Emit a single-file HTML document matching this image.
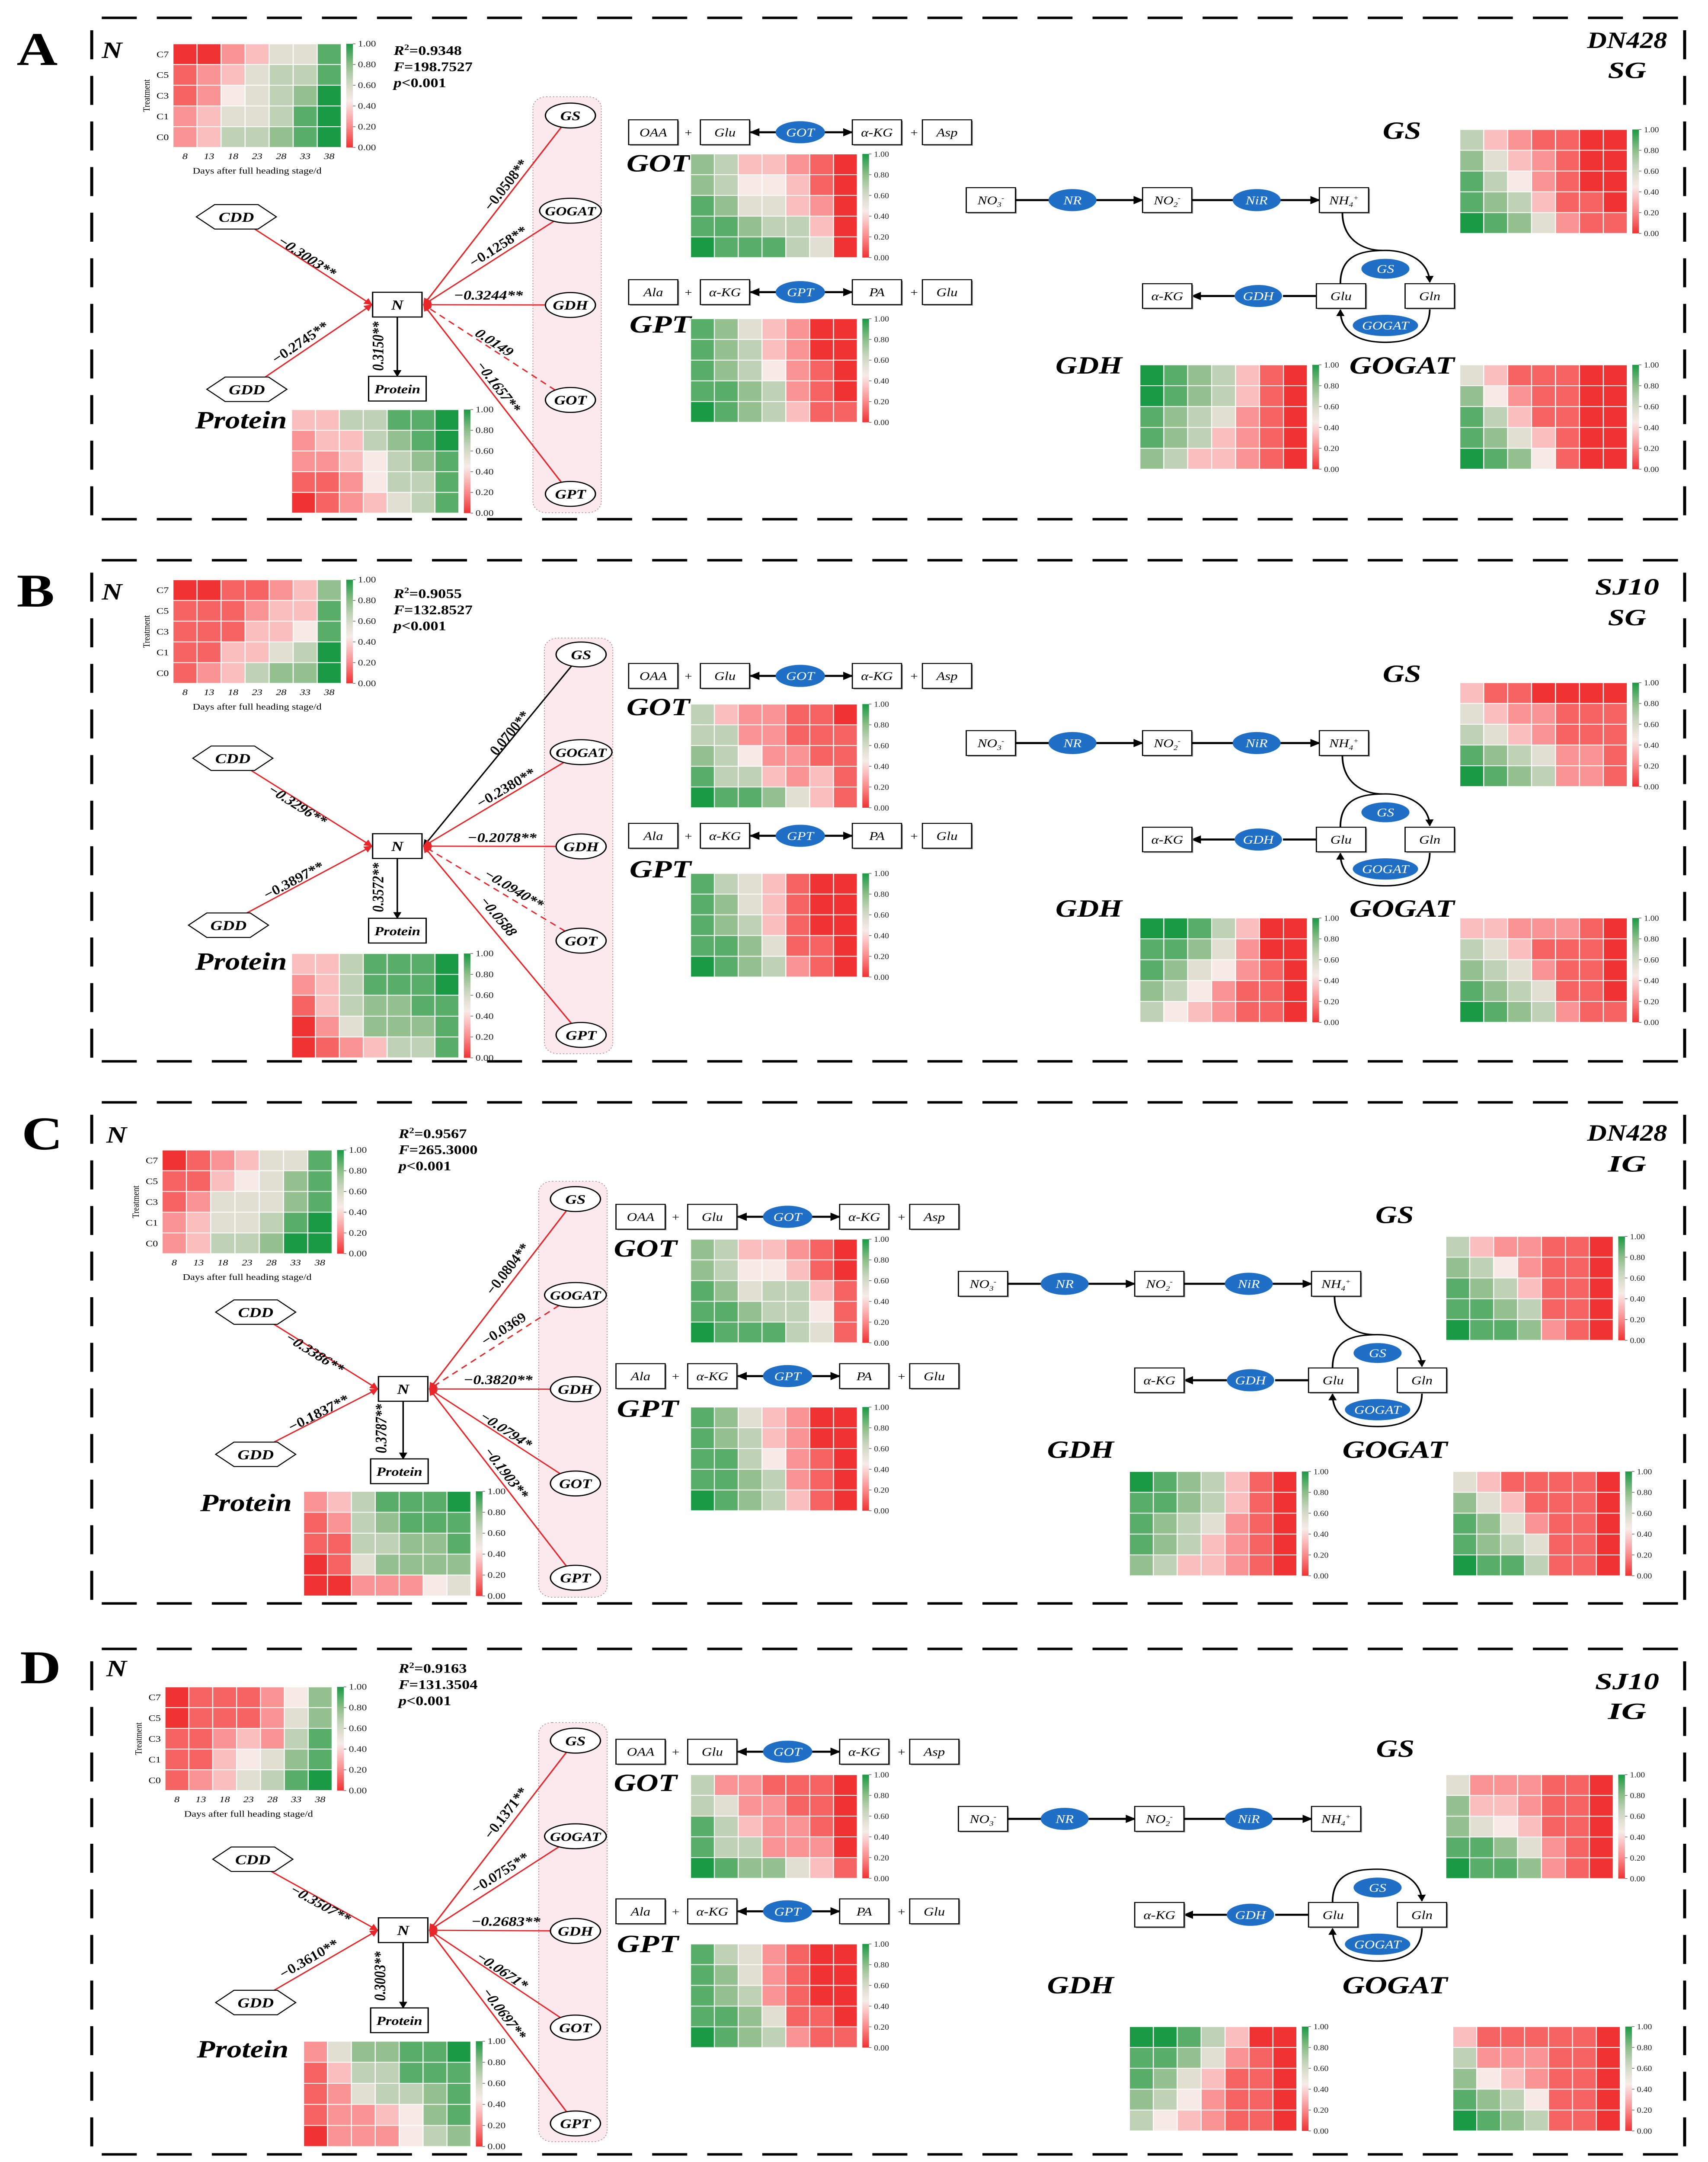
<!DOCTYPE html>
<html><head><meta charset="utf-8"><title>Path analysis heatmaps</title>
<style>html,body{margin:0;padding:0;background:#fff;width:100%;height:100%;overflow:hidden}svg{display:block;position:fixed;left:0;top:0;width:100vw;height:100vh}</style></head>
<body>
<svg id="fig" xmlns="http://www.w3.org/2000/svg" viewBox="0 0 1024 1564.5" preserveAspectRatio="none">
<defs>
<linearGradient id="cbgrad" x1="0" y1="0" x2="0" y2="1">
<stop offset="0" stop-color="#1a9a44"/><stop offset="0.2" stop-color="#8cbe88"/><stop offset="0.35" stop-color="#c6d4bc"/><stop offset="0.45" stop-color="#e2e0d2"/><stop offset="0.55" stop-color="#f6ebe8"/><stop offset="0.65" stop-color="#fbc4c4"/><stop offset="0.8" stop-color="#fa8a8a"/><stop offset="1" stop-color="#f03232"/>
</linearGradient>
<marker id="arR" viewBox="0 0 10 10" refX="9" refY="5" markerWidth="5" markerHeight="5" markerUnits="userSpaceOnUse" orient="auto"><path d="M0,0 L10,5 L0,10 z" fill="#e8262a"/></marker>
<marker id="arK" viewBox="0 0 10 10" refX="9" refY="5" markerWidth="5" markerHeight="5" markerUnits="userSpaceOnUse" orient="auto"><path d="M0,0 L10,5 L0,10 z" fill="#000"/></marker>
<marker id="arB" viewBox="0 0 10 10" refX="9" refY="5" markerWidth="6" markerHeight="6" markerUnits="userSpaceOnUse" orient="auto"><path d="M0,0 L10,5 L0,10 z" fill="#000"/></marker>
</defs>
</svg>
<script>
// ---------- chart data ----------
const days = ['8','13','18','23','28','33','38'];
const treatments = ['C7','C5','C3','C1','C0'];
const cbTicks = ['1.00','0.80','0.60','0.40','0.20','0.00'];

const N_A = [[0,0,2,3,5,5,8],[1,2,3,5,6,6,8],[1,2,4,5,6,7,9],[2,3,5,5,6,8,9],[2,3,6,6,7,8,9]];
const PROT_A = [[3,3,6,6,8,8,9],[2,3,3,6,7,8,9],[2,2,3,4,6,7,8],[1,1,2,4,6,6,8],[0,1,2,3,5,6,8]];
const GOT_A = [[7,6,3,3,2,1,0],[7,6,4,4,3,1,0],[8,7,5,5,3,2,0],[8,8,7,6,6,3,0],[9,8,8,8,6,5,0]];
const GPT_A = [[8,7,5,3,2,0,0],[8,7,6,3,2,0,0],[8,7,6,4,2,1,0],[8,8,7,6,2,1,0],[9,8,7,6,3,1,1]];
const GS_A = [[6,3,2,1,1,0,0],[7,5,3,2,1,0,0],[8,6,4,2,1,0,0],[8,7,6,3,1,1,0],[9,8,7,5,2,1,1]];
const GDH_A = [[9,8,7,6,3,1,0],[9,8,7,6,3,1,0],[8,7,6,5,2,1,0],[8,7,6,3,2,1,0],[7,6,3,3,2,1,0]];
const GOGAT_A = [[5,3,1,1,1,0,0],[7,4,2,1,1,0,0],[8,6,3,1,1,0,0],[8,7,5,3,1,0,0],[9,8,7,4,1,0,0]];

const N_B = [[0,0,1,1,2,3,7],[1,1,1,2,3,3,8],[1,1,1,3,3,4,8],[1,1,3,3,5,6,9],[1,2,3,6,7,7,9]];
const PROT_B = [[3,3,6,8,8,8,9],[2,3,6,8,8,8,9],[1,3,6,7,7,8,8],[0,2,5,7,7,7,8],[0,1,2,3,6,6,8]];
const GOT_B = [[6,3,2,2,1,1,0],[6,6,2,2,1,1,1],[7,6,4,2,2,1,1],[8,6,6,3,2,3,1],[9,8,8,7,5,3,1]];
const GPT_B = [[8,6,5,3,1,0,0],[8,7,5,3,1,0,0],[8,7,6,3,1,0,0],[8,8,7,5,1,1,0],[9,8,7,6,2,1,0]];
const GS_B = [[3,1,1,0,0,0,0],[5,3,2,2,1,1,1],[6,5,3,2,1,1,1],[8,7,6,5,2,2,1],[9,8,7,6,2,2,1]];
const GDH_B = [[9,9,8,6,3,0,0],[8,8,7,5,2,0,0],[8,7,5,4,2,1,0],[7,6,4,2,1,1,0],[6,4,3,2,1,1,0]];
const GOGAT_B = [[3,3,2,2,2,1,0],[6,5,3,1,1,1,0],[7,6,5,2,1,1,0],[8,7,6,5,1,1,0],[9,8,7,6,2,1,1]];

const N_C = [[0,1,2,3,5,5,8],[1,1,3,4,5,7,8],[1,2,5,5,5,7,8],[2,3,5,5,6,8,9],[2,3,6,6,7,9,9]];
const PROT_C = [[2,3,6,8,8,8,9],[1,2,6,7,8,8,8],[1,1,6,6,7,7,8],[0,1,5,7,7,7,7],[0,0,2,2,2,4,5]];
const GOT_C = [[7,6,3,3,2,1,0],[7,6,4,4,3,1,0],[8,7,5,6,6,3,1],[8,8,7,6,6,4,1],[9,8,8,8,6,5,1]];
const GPT_C = [[8,7,5,3,2,0,0],[8,7,6,3,2,0,0],[8,8,6,4,2,1,0],[8,8,7,6,2,1,0],[9,8,7,6,3,1,0]];
const GS_C = [[6,3,2,2,1,1,0],[7,6,4,2,1,1,0],[8,7,6,3,1,1,0],[8,8,7,6,1,1,0],[9,8,8,7,2,1,0]];
const GDH_C = [[9,8,7,6,3,1,0],[8,8,7,6,3,1,0],[8,7,6,5,2,1,0],[8,7,6,3,2,1,0],[7,6,3,3,2,1,0]];
const GOGAT_C = [[5,3,1,1,1,1,0],[7,5,3,1,1,1,0],[8,7,5,2,1,1,0],[8,7,6,5,1,1,0],[9,8,8,6,1,1,0]];

const N_D = [[0,1,1,1,2,4,7],[0,1,1,1,2,5,7],[1,1,2,3,2,6,8],[1,1,3,4,5,7,8],[1,2,3,5,6,8,9]];
const PROT_D = [[2,5,7,7,8,8,9],[1,3,6,6,8,8,8],[1,2,5,6,6,7,8],[1,2,2,3,4,7,8],[0,2,2,2,4,6,7]];
const GOT_D = [[6,2,2,1,1,1,0],[6,5,2,2,1,1,0],[8,6,3,2,2,1,0],[8,6,6,2,2,2,0],[9,8,7,7,5,3,1]];
const GPT_D = [[8,6,5,2,1,0,0],[8,7,5,2,1,0,0],[8,7,6,2,1,0,0],[8,8,7,5,1,1,0],[9,8,7,6,2,1,1]];
const GS_D = [[5,2,2,2,1,1,0],[7,3,3,2,1,1,0],[7,5,4,3,1,1,0],[8,8,7,5,2,1,0],[9,8,8,7,2,1,0]];
const GDH_D = [[9,9,8,6,3,0,0],[8,8,7,5,2,1,0],[8,7,5,3,1,1,0],[7,6,4,2,1,1,0],[6,4,3,2,1,1,0]];
const GOGAT_D = [[3,1,1,1,1,1,0],[6,2,2,2,1,1,0],[7,4,3,2,1,1,0],[8,7,6,4,1,1,0],[9,8,7,6,1,1,0]];

// path coefficients: GS, GOGAT, GDH, GOT, GPT, CDD, GDD, N->Protein
const COEF_A = ['−0.0508**','−0.1258**','−0.3244**','0.0149','−0.1657**','−0.3003**','−0.2745**','0.3150**'];
const COEF_B = ['0.0700**','−0.2380**','−0.2078**','−0.0940**','−0.0588','−0.3296**','−0.3897**','0.3572**'];
const COEF_C = ['−0.0804**','−0.0369','−0.3820**','−0.0794*','−0.1903**','−0.3386**','−0.1837**','0.3787**'];
const COEF_D = ['−0.1371**','−0.0755**','−0.2683**','−0.0671*','−0.0697**','−0.3507**','−0.3610**','0.3003**'];
const STATS_A = ['0.9348','198.7527'];
const STATS_B = ['0.9055','132.8527'];
const STATS_C = ['0.9567','265.3000'];
const STATS_D = ['0.9163','131.3504'];

// ---------- helpers ----------
const NS='http://www.w3.org/2000/svg';
const svg=document.getElementById('fig');
const SERIF="'Liberation Serif', serif";
function mk(tag,attrs,parent){const e=document.createElementNS(NS,tag);for(const k in attrs)e.setAttribute(k,attrs[k]);if(parent)parent.appendChild(e);return e;}
function tx(parent,x,y,str,attrs){const t=mk('text',Object.assign({x:x,y:y,'font-family':SERIF},attrs||{}),parent);t.textContent=str;return t;}
const stops=[[0,[240,50,50]],[0.2,[250,138,138]],[0.35,[251,196,196]],[0.45,[246,235,232]],[0.55,[226,224,210]],[0.65,[198,212,188]],[0.8,[140,190,136]],[1,[26,154,68]]];
function colorFor(v){v=Math.max(0,Math.min(1,v));for(let i=1;i<stops.length;i++){if(v<=stops[i][0]){const a=stops[i-1],b=stops[i];const t=(v-a[0])/(b[0]-a[0]);const c=a[1].map((q,k)=>Math.round(q+(b[1][k]-q)*t));return 'rgb('+c.join(',')+')';}}return 'rgb(26,154,68)';}

function heatmap(g,x,y,w,h,data,name,axes,narrow){
  const cw=w/7,ch=h/5;
  const xs=i=>x+i*cw, ys=j=>y+j*ch;
  data.forEach((row,j)=>row.forEach((d,i)=>{
    const r=mk('rect',{x:xs(i),y:ys(j),width:cw,height:ch,fill:colorFor(d/9),stroke:'#fff','stroke-width':0.6},g);
    
    
  }));
  const cbx=x+w+3;
  const cb=mk('rect',{x:cbx,y:y,width:4,height:h,fill:'url(#cbgrad)'},g);
  
  
  cbTicks.forEach((t,k)=>{
    const ty=y+k*h/5;
    mk('line',{x1:cbx+4,x2:cbx+5.5,y1:ty,y2:ty,stroke:'#555','stroke-width':0.4},g);
    const tt=tx(g,cbx+7,ty+2,t,{'font-size':narrow?5.6:6.2,fill:'#222'});
    if(narrow){tt.setAttribute('textLength','9');tt.setAttribute('lengthAdjust','spacingAndGlyphs');}
    
    
  });
  if(axes){
    treatments.forEach((r,j)=>{const t=tx(g,x-2.5,ys(j)+ch/2+2.2,r,{'font-size':6.3,'text-anchor':'end'});
      });
    days.forEach((d,i)=>{const t=tx(g,xs(i)+cw/2,y+h+8.5,d,{'font-size':6.3,'font-style':'italic','text-anchor':'middle'});
      });
    const xt=tx(g,x+w/2,y+h+19,'Days after full heading stage/d',{'font-size':6.3,'text-anchor':'middle'});
    
    const yt=tx(g,0,0,'Treatment',{'font-size':5.8,'text-anchor':'middle',transform:'translate('+(x-14)+','+(y+h/2)+') rotate(-90)'});
    
  }
}
function box(g,x,cy,w,h,label,name,fs){
  mk('rect',{x:x+0.8,y:cy-h/2+0.8,width:w,height:h,fill:'#999'},g);
  const r=mk('rect',{x:x,y:cy-h/2,width:w,height:h,fill:'#fff',stroke:'#000','stroke-width':0.7},g);
  
  const t=tx(g,x+w/2,cy+3,label,{'font-size':fs||8.5,'font-style':'italic','text-anchor':'middle'});
  
  return t;
}
function blueEll(g,cx,cy,rx,ry,label,name){
  const e=mk('ellipse',{cx:cx,cy:cy,rx:rx,ry:ry,fill:'#1f6fc6'},g);
  
  const t=tx(g,cx,cy+3,label,{'font-size':8.5,'font-style':'italic',fill:'#fff','text-anchor':'middle'});
  
}
function bigLabel(g,x,y,str,len,name,size){
  const t=tx(g,x,y,str,{'font-size':size||18,'font-weight':'bold','font-style':'italic',textLength:len,lengthAdjust:'spacingAndGlyphs'});
  
}
function arrowLine(g,x1,y1,x2,y2,name,w){
  const l=mk('line',{x1:x1,y1:y1,x2:x2,y2:y2,stroke:'#000','stroke-width':w||1.5,'marker-end':'url(#arB)'},g);
  
}
function plainLine(g,x1,y1,x2,y2,name){
  const l=mk('line',{x1:x1,y1:y1,x2:x2,y2:y2,stroke:'#000','stroke-width':1.5},g);
  
}
function reaction(g,ox,cy,labs,enz,prefix){
  box(g,ox,cy,29.5,18,labs[0],prefix+'-substrate-1');
  box(g,ox+43,cy,29.5,18,labs[1],prefix+'-substrate-2');
  box(g,ox+134.1,cy,29.5,18,labs[2],prefix+'-product-1');
  box(g,ox+176.1,cy,29.5,18,labs[3],prefix+'-product-2');
  const p1=tx(g,ox+35.8,cy+3,'+',{'font-size':8,'text-anchor':'middle'});
  
  const p2=tx(g,ox+171.2,cy+3,'+',{'font-size':8,'text-anchor':'middle'});
  
  arrowLine(g,ox+90,cy,ox+73,cy,prefix+'-arrow-left');
  arrowLine(g,ox+116,cy,ox+134,cy,prefix+'-arrow-right');
  blueEll(g,ox+102.9,cy,14.8,8,enz,prefix+'-enzyme');
}
function pathway(g,nx,ny,cycY,curve){
  const t1=box(g,nx,ny,29.5,18,'NO','no3-box');
  mk('tspan',{'font-size':5,dy:2},t1).textContent='3';
  mk('tspan',{'font-size':5,dy:-5},t1).textContent='-';
  plainLine(g,nx+29.5,ny,nx+50,ny,'no3-nr-line');
  arrowLine(g,nx+77,ny,nx+105.7,ny,'nr-arrow');
  blueEll(g,nx+63.7,ny,14.4,8,'NR','nr-enzyme');
  const t2=box(g,nx+105.7,ny,29.5,18,'NO','no2-box');
  mk('tspan',{'font-size':5,dy:2},t2).textContent='2';
  mk('tspan',{'font-size':5,dy:-5},t2).textContent='-';
  plainLine(g,nx+135.2,ny,nx+160,ny,'no2-nir-line');
  arrowLine(g,nx+187,ny,nx+211.7,ny,'nir-arrow');
  blueEll(g,nx+174.1,ny,14.4,8,'NiR','nir-enzyme');
  const t3=box(g,nx+211.7,ny,29.5,18,'NH','nh4-box');
  mk('tspan',{'font-size':5,dy:2},t3).textContent='4';
  mk('tspan',{'font-size':5,dy:-5},t3).textContent='+';
  const gx=nx+209.9, cx=gx+41.4;
  if(curve){
    const c=mk('path',{d:'M'+(nx+225.5)+','+(ny+9)+' C'+(nx+225.5)+','+(ny+28)+' '+(cx-14)+','+(cycY-33)+' '+(cx-2)+','+(cycY-33),fill:'none',stroke:'#000','stroke-width':1},g);
    
  }
  const top=mk('path',{d:'M'+(gx+14.4)+','+(cycY-9)+' C'+(gx+14.4)+','+(cycY-30)+' '+(cx-14)+','+(cycY-33)+' '+cx+','+(cycY-33)+' C'+(cx+14)+','+(cycY-33)+' '+(cx+26)+','+(cycY-25)+' '+(cx+26.6)+','+(cycY-10),fill:'none',stroke:'#000','stroke-width':1,'marker-end':'url(#arK)'},g);
  
  const bot=mk('path',{d:'M'+(cx+26.6)+','+(cycY+9)+' C'+(cx+26.6)+','+(cycY+28)+' '+(cx+14)+','+(cycY+33.5)+' '+cx+','+(cycY+33.5)+' C'+(cx-14)+','+(cycY+33.5)+' '+(gx+14.4)+','+(cycY+28)+' '+(gx+14.4)+','+(cycY+10),fill:'none',stroke:'#000','stroke-width':1,'marker-end':'url(#arK)'},g);
  
  box(g,gx,cycY,29.6,17.8,'Glu','glu-box');
  box(g,gx+53.2,cycY,29.6,17.8,'Gln','gln-box');
  blueEll(g,cx,cycY-19.7,14.4,7.2,'GS','gs-enzyme');
  blueEll(g,cx,cycY+21.3,19.6,7.7,'GOGAT','gogat-enzyme');
  plainLine(g,gx-20,cycY,gx,cycY,'gdh-glu-line');
  arrowLine(g,gx-49,cycY,gx-74.6,cycY,'gdh-arrow');
  blueEll(g,gx-34.8,cycY,14.2,8,'GDH','gdh-enzyme');
  box(g,gx-104.2,cycY,29.6,17.8,'α-KG','akg-box');
}
function dashedBorder(g,P){
  const L=55,R=1010;
  const sides=[[61,P.top,1008,P.top],[61,P.bot,1008,P.bot],[L,P.top+9,L,P.bot],[R,P.top+9,R,P.bot]];
  sides.forEach(s=>{const l=mk('line',{x1:s[0],y1:s[1],x2:s[2],y2:s[3],stroke:'#000','stroke-width':1.8,'stroke-dasharray':'21 12'},g);
    });
}
function ellPoint(c,rx,ry,tx_,ty_){const dx=tx_-c[0],dy=ty_-c[1];const s=1/Math.sqrt((dx/rx)**2+(dy/ry)**2);return [c[0]+dx*s,c[1]+dy*s];}

function panel(P){
  const g=mk('g',{},svg);
  
  
  dashedBorder(g,P);
  const L=tx(g,P.letterX,P.letterY,P.id,{'font-size':34,'font-weight':'bold'});
  
  const Nl=tx(g,P.nLab[0],P.nLab[1],'N',{'font-size':17,'font-weight':'bold','font-style':'italic'});
  
  heatmap(g,P.nh[0],P.nh[1],P.nh[2],75,P.data.N,'n-heatmap',true,false);
  const sx=P.stats[0],sy=P.stats[1];
  const s1=tx(g,sx,sy,'',{'font-size':9.5,'font-weight':'bold'});
  mk('tspan',{'font-style':'italic'},s1).textContent='R';
  mk('tspan',{'font-size':6,dy:-3.5},s1).textContent='2';
  mk('tspan',{dy:3.5},s1).textContent='='+P.statsV[0];
  
  const s2=tx(g,sx,sy+11.7,'',{'font-size':9.5,'font-weight':'bold'});
  mk('tspan',{'font-style':'italic'},s2).textContent='F';
  mk('tspan',{},s2).textContent='='+P.statsV[1];
  
  const s3=tx(g,sx,sy+23.4,'',{'font-size':9.5,'font-weight':'bold'});
  mk('tspan',{'font-style':'italic'},s3).textContent='p';
  mk('tspan',{},s3).textContent='<0.001';
  
  const pk=mk('rect',{x:P.pink[0],y:P.pink[1],width:41,height:P.pink[2],rx:8,fill:'#fbe9ee',stroke:'#b08890','stroke-width':0.5,'stroke-dasharray':'0.8 1.2'},g);
  
  const nb=P.nbox, nR=[nb[0]+29.6,nb[1]+9], nL=[nb[0],nb[1]+9];
  const enz=['GS','GOGAT','GDH','GOT','GPT'];
  enz.forEach((e,k)=>{
    const c=[P.ellX,P.ellY[k]], rx=e==='GOGAT'?18.5:15;
    const p=ellPoint(c,rx,9,nR[0],nR[1]);
    const st=P.sty[k];
    const col=st[0]==='k'?'#000':'#e8262a';
    const a={x1:p[0],y1:p[1],x2:nR[0]+1,y2:nR[1],stroke:col,'stroke-width':0.9,'marker-end':st[0]==='k'?'url(#arK)':'url(#arR)'};
    if(st[1]==='d')a['stroke-dasharray']='4 3';
    const l=mk('line',a,g);
    
  });
  const cddS=[P.cdd[0]+11,P.cdd[1]+8.85], gddS=[P.gdd[0]+11,P.gdd[1]-8.85];
  [[cddS,'cdd'],[gddS,'gdd']].forEach(q=>{
    const l=mk('line',{x1:q[0][0],y1:q[0][1],x2:nL[0]-0.5,y2:nL[1],stroke:'#e8262a','stroke-width':0.9,'marker-end':'url(#arR)'},g);
    
  });
  const starts=enz.map((e,k)=>[P.ellX,P.ellY[k]]).concat([cddS,gddS]);
  starts.forEach((s,k)=>{
    const tgt=k<5?nR:nL;
    let ang=Math.atan2(tgt[1]-s[1],tgt[0]-s[0])*180/Math.PI;
    if(ang>90)ang-=180; if(ang<-90)ang+=180;
    if(k<5){ang=Math.atan2(s[1]-tgt[1],s[0]-tgt[0])*180/Math.PI;}
    const pos=P.lab[k];
    const t=tx(g,0,0,P.coef[k],{'font-size':9.5,'font-weight':'bold','font-style':'italic','text-anchor':'middle','dominant-baseline':'central',transform:'translate('+pos[0]+','+pos[1]+') rotate('+ang.toFixed(1)+')'});
    
  });
  const np=P.lab[7];
  const tnp=tx(g,0,0,P.coef[7],{'font-size':9.5,'font-weight':'bold','font-style':'italic','text-anchor':'middle','dominant-baseline':'central',transform:'translate('+np[0]+','+np[1]+') rotate(-90)'});
  
  enz.forEach((e,k)=>{
    const rx=e==='GOGAT'?18.5:15;
    const el=mk('ellipse',{cx:P.ellX,cy:P.ellY[k],rx:rx,ry:9,fill:'#fff',stroke:'#000','stroke-width':0.8},g);
    
    const t=tx(g,P.ellX,P.ellY[k]+3.4,e,{'font-size':e==='GOGAT'?9:9.5,'font-weight':'bold','font-style':'italic','text-anchor':'middle'});
    
  });
  [[P.cdd,'CDD'],[P.gdd,'GDD']].forEach(q=>{
    const c=q[0];
    const pts=[[-24,0],[-13,-8.85],[13,-8.85],[24,0],[13,8.85],[-13,8.85]].map(p=>(c[0]+p[0])+','+(c[1]+p[1])).join(' ');
    const h=mk('polygon',{points:pts,fill:'#fff',stroke:'#000','stroke-width':0.7},g);
    
    const t=tx(g,c[0],c[1]+3.6,q[1],{'font-size':10,'font-weight':'bold','font-style':'italic','text-anchor':'middle'});
    
  });
  const nbr=mk('rect',{x:nb[0],y:nb[1],width:29.6,height:17.9,fill:'#fff',stroke:'#000','stroke-width':0.8},g);
  
  const nt=tx(g,nb[0]+14.8,nb[1]+12.5,'N',{'font-size':10,'font-weight':'bold','font-style':'italic','text-anchor':'middle'});
  
  const pb=P.pbox;
  const pbr=mk('rect',{x:pb[0],y:pb[1],width:34.5,height:17.9,fill:'#fff',stroke:'#000','stroke-width':0.8},g);
  
  const pt=tx(g,pb[0]+17.25,pb[1]+12.3,'Protein',{'font-size':9,'font-weight':'bold','font-style':'italic','text-anchor':'middle'});
  
  const ar=mk('line',{x1:nb[0]+14.8,y1:nb[1]+17.9,x2:nb[0]+14.8,y2:pb[1],stroke:'#000','stroke-width':0.9,'marker-end':'url(#arK)'},g);
  
  bigLabel(g,P.plab[0],P.plab[1],'Protein',55,'protein-heatmap-title',18);
  heatmap(g,P.ph[0],P.ph[1],100.3,P.ph[2],P.data.PROT,'protein-heatmap',false,false);
  const rx0=376.9+P.rxRow;
  reaction(g,rx0,P.oaaY,['OAA','Glu','α-KG','Asp'],'GOT','got-reaction');
  reaction(g,rx0,P.gptY,['Ala','α-KG','PA','Glu'],'GPT','gpt-reaction');
  bigLabel(g,rx0-1.3,P.gotLabY,'GOT',38,'got-heatmap-title',18);
  bigLabel(g,rx0+0.5,P.gptLabY,'GPT',37,'gpt-heatmap-title',18);
  heatmap(g,414,P.gotHy,100,75,P.data.GOT,'got-heatmap',false,true);
  heatmap(g,414,P.gptHy,100,75,P.data.GPT,'gpt-heatmap',false,true);
  pathway(g,579.3+P.rxPath,P.no3Y,P.cycY,P.curve);
  bigLabel(g,P.gsL[0],P.gsL[1],'GS',23,'gs-heatmap-title',18);
  heatmap(g,P.gsH[0],P.gsH[1],100.4,75.2,P.data.GS,'gs-heatmap',false,true);
  bigLabel(g,P.gdhLx,P.lowLabY,'GDH',40,'gdh-heatmap-title',18);
  bigLabel(g,P.gogatLx,P.lowLabY,'GOGAT',63,'gogat-heatmap-title',18);
  heatmap(g,P.gdhH[0],P.gdhH[1],100.4,75.5,P.data.GDH,'gdh-heatmap',false,true);
  heatmap(g,P.gogatH[0],P.gogatH[1],100.4,75.5,P.data.GOGAT,'gogat-heatmap',false,true);
  const t1=tx(g,975.5,P.titleY[0],P.title[0],{'font-size':17,'font-weight':'bold','font-style':'italic','text-anchor':'middle',textLength:P.title[0].length*9.6,lengthAdjust:'spacingAndGlyphs'});
  
  const t2=tx(g,975.5,P.titleY[1],P.title[1],{'font-size':17,'font-weight':'bold','font-style':'italic','text-anchor':'middle',textLength:23,lengthAdjust:'spacingAndGlyphs'});
  
}

const panels=[
 {id:'A',top:12.9,bot:375.7,letterX:10,letterY:47,nLab:[61,42],nh:[103.7,31.7,100.9],stats:[236,39.7],statsV:STATS_A,
  pink:[319.5,70,301],ellX:342,ellY:[83.6,152.5,220.7,289.4,357.4],cdd:[141.7,156.9],gdd:[148,281.7],nbox:[223.4,211.5],pbox:[221,272.3],
  plab:[117,310],ph:[174.8,296.4,74.9],coef:COEF_A,sty:['r-','r-','r-','rd','r-'],
  lab:[[303.3,134],[298.6,178.6],[292.8,213.8],[296.3,248],[298.6,280],[184,186],[180,248],[226.9,250.5]],
  rxRow:0,oaaY:95.7,gotLabY:124,gotHy:111.4,gptY:211.4,gptLabY:240.6,gptHy:230.6,rxPath:0,no3Y:144.8,cycY:214.2,curve:true,
  gsL:[829,100.4],gsH:[875.2,93.7],lowLabY:270.3,gdhLx:632.8,gogatLx:809,gdhH:[683.4,264],gogatH:[875.2,264],
  title:['DN428','SG'],titleY:[34.7,56.5],
  data:{N:N_A,PROT:PROT_A,GOT:GOT_A,GPT:GPT_A,GS:GS_A,GDH:GDH_A,GOGAT:GOGAT_A}},
 {id:'B',top:405.4,bot:768,letterX:10,letterY:438.9,nLab:[61,433.9],nh:[103.7,419.5,100.9],stats:[236,432.7],statsV:STATS_B,
  pink:[326.4,461.7,300.8],ellX:348.4,ellY:[473.6,544.3,612.5,680.7,748.9],cdd:[139.6,548.7],gdd:[137,669.5],nbox:[223.4,603.3],pbox:[221,664.5],
  plab:[117,701.7],ph:[174.8,690,75.5],coef:COEF_B,sty:['k-','r-','r-','rd','r-'],
  lab:[[305.6,530.6],[303.3,570.3],[301,606.3],[308,643.5],[298.6,663.3],[178.3,582.7],[176,637.3],[226.9,642.2]],
  rxRow:0,oaaY:489.1,gotLabY:517.5,gotHy:509.5,gptY:604.8,gptLabY:634.8,gptHy:632,rxPath:0,no3Y:537.7,cycY:607.5,curve:true,
  gsL:[829,493.4],gsH:[875.2,494],lowLabY:663.3,gdhLx:632.8,gogatLx:809,gdhH:[683.4,664.3],gogatH:[875.2,664.3],
  title:['SJ10','SG'],titleY:[430.2,452.5],
  data:{N:N_B,PROT:PROT_B,GOT:GOT_B,GPT:GPT_B,GS:GS_B,GDH:GDH_B,GOGAT:GOGAT_B}},
 {id:'C',top:797.7,bot:1160.3,letterX:13,letterY:831.7,nLab:[63.7,826.8],nh:[97.2,832.2,101.9],stats:[239,823.5],statsV:STATS_C,
  pink:[323,854.8,301],ellX:345,ellY:[867.7,937.1,1005.3,1073.5,1141.7],cdd:[153.3,949.5],gdd:[153.3,1052.4],nbox:[226.9,996.1],pbox:[222.2,1055.7],
  plab:[120,1093.4],ph:[182,1079.2,75.7],coef:COEF_C,sty:['r-','rd','r-','r-','r-'],
  lab:[[304.4,918.5],[302,961.9],[298.6,998.6],[303.3,1035.1],[303.3,1066],[188.7,979.3],[191,1022.7],[228.7,1033.8]],
  rxRow:-7.6,oaaY:880.5,gotLabY:909.3,gotHy:896.7,gptY:995.8,gptLabY:1025.2,gptHy:1018.2,rxPath:-4.7,no3Y:929,cycY:998.8,curve:true,
  gsL:[824.6,885],gsH:[866.8,894.7],lowLabY:1054.9,gdhLx:627.8,gogatLx:804.8,gdhH:[677.1,1064.8],gogatH:[871,1064.8],
  title:['DN428','IG'],titleY:[825.5,847.8],
  data:{N:N_C,PROT:PROT_C,GOT:GOT_C,GPT:GPT_C,GS:GS_C,GDH:GDH_C,GOGAT:GOGAT_C}},
 {id:'D',top:1193.2,bot:1559,letterX:12,letterY:1218,nLab:[63.7,1213],nh:[98.9,1220.7,100.2],stats:[239,1210.5],statsV:STATS_D,
  pink:[323,1246.5,303.3],ellX:345,ellY:[1259.6,1328.8,1397.3,1467.2,1536.6],cdd:[151.6,1345.4],gdd:[153.3,1449.1],nbox:[226.9,1387.8],pbox:[222.2,1453],
  plab:[118,1488.8],ph:[182,1477.1,76.2],coef:COEF_D,sty:['r-','r-','r-','r-','r-'],
  lab:[[303.3,1312.2],[299.8,1355.6],[303.3,1390.6],[301,1426.3],[302.1,1457.3],[192.1,1377.9],[185.2,1417.6],[228,1430]],
  rxRow:-7.6,oaaY:1267.6,gotLabY:1296,gotHy:1284.2,gptY:1383.1,gptLabY:1412.6,gptHy:1406.7,rxPath:-4.7,no3Y:1316.2,cycY:1385.6,curve:false,
  gsL:[825,1271.3],gsH:[866.8,1284.2],lowLabY:1442.4,gdhLx:627.8,gogatLx:804.8,gdhH:[677.1,1466.5],gogatH:[871,1466.5],
  title:['SJ10','IG'],titleY:[1222.4,1244],
  data:{N:N_D,PROT:PROT_D,GOT:GOT_D,GPT:GPT_D,GS:GS_D,GDH:GDH_D,GOGAT:GOGAT_D}}
];
panels.forEach(panel);
</script>
</body></html>
